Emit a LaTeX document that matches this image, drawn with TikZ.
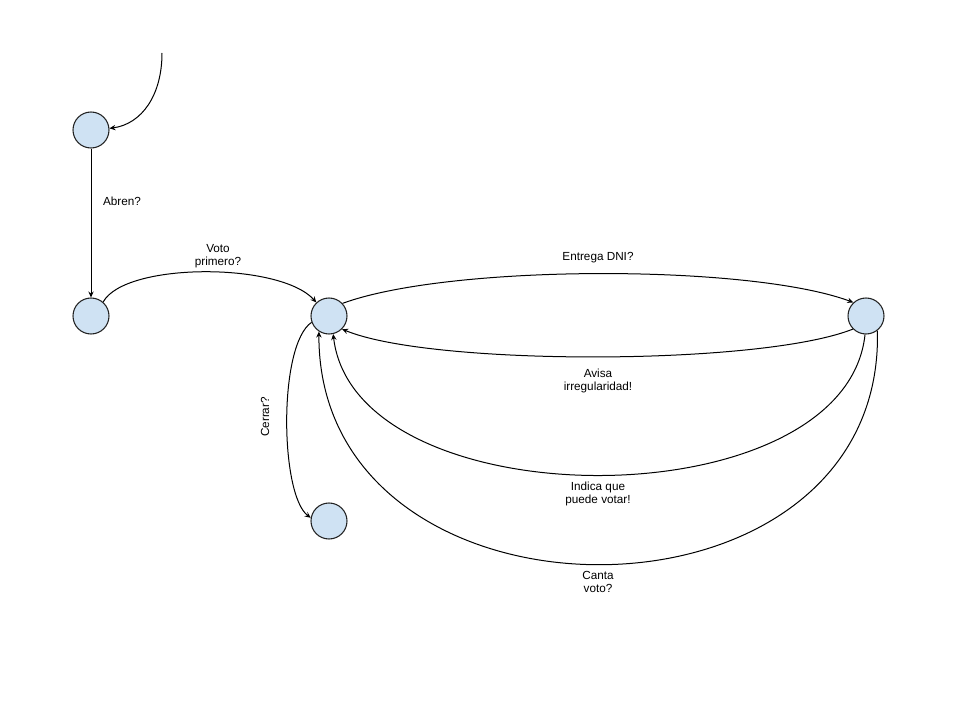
\documentclass[tikz,border=0pt]{standalone}
\usepackage{fontspec}
\setmainfont{Liberation Sans}
\usetikzlibrary{arrows.meta}
\definecolor{stfill}{HTML}{CFE2F3}
\definecolor{stline}{HTML}{222222}
\begin{document}
\begin{tikzpicture}[x=0.75pt,y=-0.75pt,
  state/.style={circle,draw=stline,fill=stfill,line width=0.8pt,minimum size=27pt,inner sep=0pt},
  edge/.style={draw=black,line width=0.75pt,-{Stealth[length=4.5pt,width=4pt,inset=1.5pt]}},
  lbl/.style={font=\fontsize{8.8pt}{10.2pt}\selectfont,align=center,inner sep=0pt}]
\fill[white] (0,0) rectangle (960,720);
\useasboundingbox (0,0) rectangle (960,720);
\node[state] (A) at (91,130) {};
\node[state] (B) at (91,316) {};
\node[state] (C) at (329,316) {};
\node[state] (D) at (866,316) {};
\node[state] (E) at (329,521) {};
\coordinate (S) at (162,53);
\draw[edge] (S) .. controls (162,95) and (142,124) .. (A.5);
\draw[edge] (A.south) -- (B.north);
\draw[edge] (B.49) .. controls (125,262) and (280,262) .. (C.133);
\draw[edge] (C.43) .. controls (450,264) and (750,264) .. (D.133);
\draw[edge] (D.225) .. controls (760,366) and (430,366) .. (C.315);
\draw[edge] (D.267) .. controls (845,522) and (355,522) .. (C.283);
\draw[edge] (D.308) .. controls (885,642) and (318,642) .. (C.237);
\draw[edge] (C.200) .. controls (278,345) and (280,495) .. (E.170);
\node[lbl] (l1) at (122,201) {Abren?};
\node[lbl] (l2) at (218,256) {Voto\\primero?};
\node[lbl] (l3) at (598,258) {Entrega DNI?};
\node[lbl] (l4) at (598,381) {Avisa\\irregularidad!};
\node[lbl] (l5) at (598,494) {Indica que\\puede votar!};
\node[lbl] (l6) at (598,582) {Canta\\voto?};
\node[lbl,rotate=90] (l7) at (265,417) {Cerrar?};
\end{tikzpicture}
\end{document}
